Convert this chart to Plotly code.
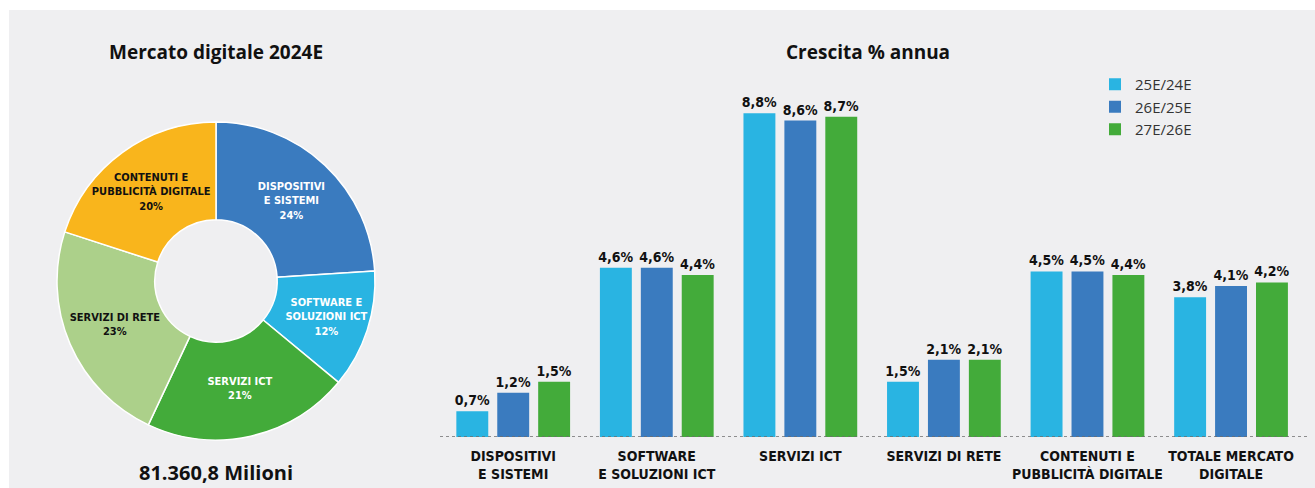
import plotly.graph_objects as go

# --- Data -------------------------------------------------------------
pie_labels = ["DISPOSITIVI<br>E SISTEMI", "SOFTWARE E<br>SOLUZIONI ICT", "SERVIZI ICT",
              "SERVIZI DI RETE", "CONTENUTI E<br>PUBBLICITÀ DIGITALE"]
pie_shares = [24, 12, 21, 23, 20]
pie_colors = ["#3a7bbf", "#29b4e2", "#43ab3a", "#acd08a", "#f9b51c"]
pie_text_colors = ["white", "white", "white", "#111111", "#111111"]

categories = ["DISPOSITIVI<br>E SISTEMI", "SOFTWARE<br>E SOLUZIONI ICT", "SERVIZI ICT",
              "SERVIZI DI RETE", "CONTENUTI E<br>PUBBLICITÀ DIGITALE", "TOTALE MERCATO<br>DIGITALE"]
growth_25_24 = [0.7, 4.6, 8.8, 1.5, 4.5, 3.8]
growth_26_25 = [1.2, 4.6, 8.6, 2.1, 4.5, 4.1]
growth_27_26 = [1.5, 4.4, 8.7, 2.1, 4.4, 4.2]
series_names = ["25E/24E", "26E/25E", "27E/26E"]
series_colors = ["#29b4e2", "#3a7bbf", "#43ab3a"]

total_label = "81.360,8 Milioni"

W, H = 1315, 488
COND = "Liberation Sans Narrow, DejaVu Sans Condensed, Arial Narrow, sans-serif"
GEO = "Open Sans, Lato, sans-serif"

fig = go.Figure()

# Donut chart
fig.add_trace(go.Pie(
    labels=pie_labels,
    values=pie_shares,
    sort=False,
    direction="clockwise",
    rotation=0,
    hole=0.385,
    marker=dict(colors=pie_colors, line=dict(color="white", width=1.5)),
    texttemplate="%{label}<br>%{value}%",
    textposition="inside",
    insidetextorientation="horizontal",
    insidetextfont=dict(family=COND, size=11, color=pie_text_colors, weight="bold"),
    domain=dict(x=[57 / W, 375 / W], y=[48 / H, 366 / H]),
    showlegend=False,
    hoverinfo="label+percent",
))

# Grouped bars
for name, vals, col in zip(series_names, [growth_25_24, growth_26_25, growth_27_26], series_colors):
    fig.add_trace(go.Bar(
        x=categories, y=vals, name=name,
        marker=dict(color=col, line=dict(width=0)),
        texttemplate="%{y:.1f}%",
        textposition="outside",
        constraintext="none",
        textfont=dict(family=COND, size=14, color="#111111", weight="bold"),
        cliponaxis=False,
    ))

fig.update_layout(
    width=W, height=H,
    margin=dict(l=0, r=0, t=0, b=0),
    paper_bgcolor="white",
    plot_bgcolor="rgba(0,0,0,0)",
    separators=",.",
    barmode="group",
    bargap=0.145,
    bargroupgap=0.22,
    uniformtext=dict(mode="show", minsize=11),
    xaxis=dict(
        domain=[440 / W, 1310 / W],
        range=[-0.51, 5.55],
        showgrid=False, zeroline=False, showline=False, ticks="",
        tickfont=dict(family=COND, size=14, color="#111111", weight="bold"),
        ticklabelstandoff=9,
    ),
    yaxis=dict(
        domain=[51 / H, (H - 87.4) / H],
        range=[0, 9.5],
        visible=False,
    ),
    legend=dict(
        x=1095 / W, y=(H - 68) / H, xanchor="left", yanchor="top",
        bgcolor="rgba(0,0,0,0)",
        font=dict(family=GEO, size=15, color="#333333"),
        traceorder="normal",
    ),
)

# Light grey panel behind everything
fig.add_shape(type="rect", xref="paper", yref="paper",
              x0=9 / W, x1=1, y0=0, y1=(H - 10) / H,
              fillcolor="#efeff1", line=dict(width=0), layer="below")

# Dashed baseline under the bars
fig.add_shape(type="line", xref="paper", yref="y",
              x0=440 / W, x1=1310 / W, y0=0, y1=0,
              line=dict(color="#6e6e6e", width=1.5, dash="3px,3px"))

# Titles and total
for text, xc, yc, size in [
    ("Mercato digitale 2024E", 216, 52, 19),
    ("Crescita % annua", 868, 52, 19),
    (total_label, 216, 472, 20),
]:
    fig.add_annotation(x=xc / W, y=(H - yc) / H, xref="paper", yref="paper",
                       xanchor="center", yanchor="middle",
                       text="<b>" + text + "</b>", showarrow=False,
                       font=dict(family=GEO, size=size, color="#111111"))

fig.write_html("out.html")
